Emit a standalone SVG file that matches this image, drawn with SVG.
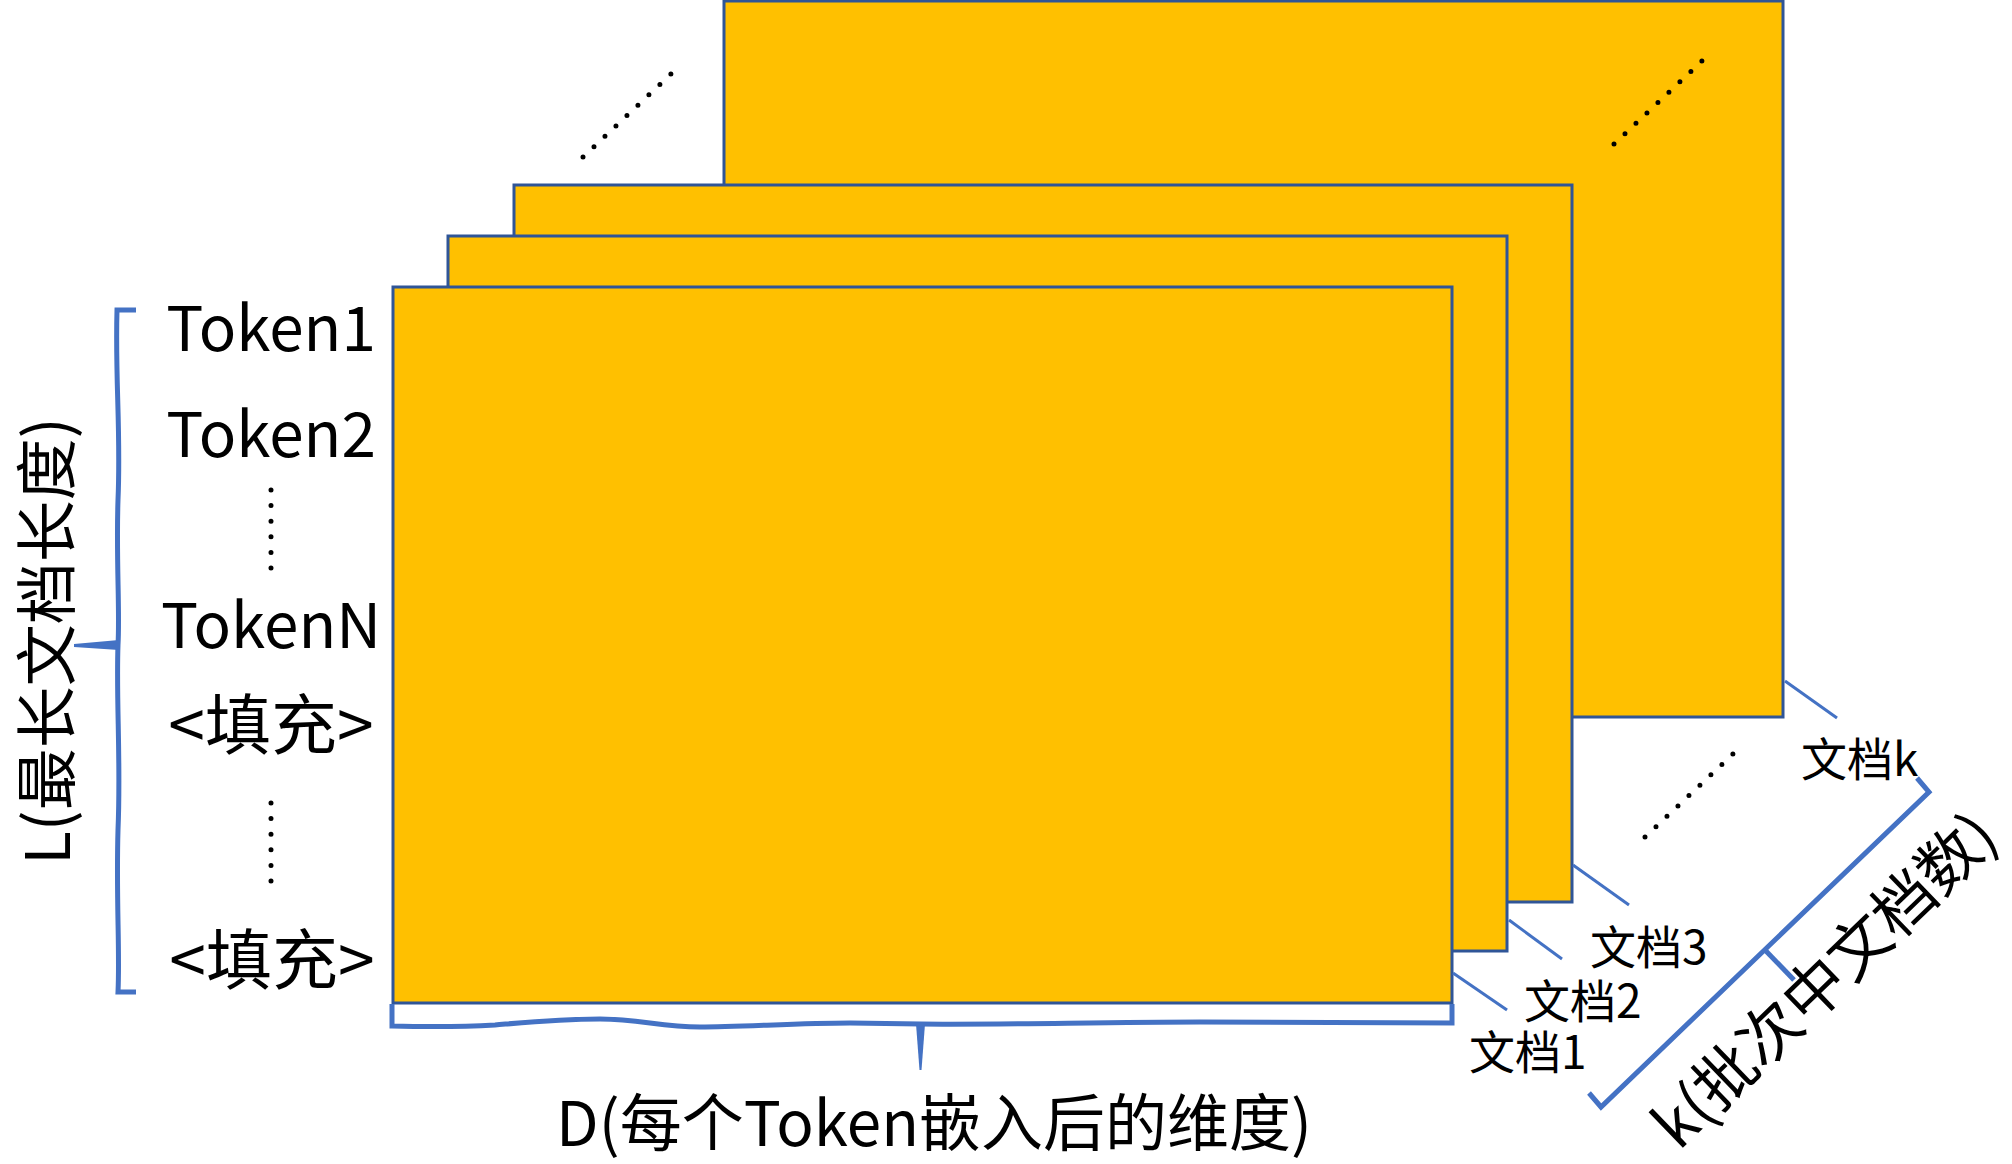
<svg xmlns="http://www.w3.org/2000/svg" width="2012" height="1164" viewBox="0 0 2012 1164">
<style>
.sheet{fill:#FFC000;stroke:#2F5597;stroke-width:3}
.t{font-family:"Noto Sans CJK SC","Noto Sans",sans-serif;fill:#000}
.tok{font-size:62px;text-anchor:middle}
.pad{font-size:66px;text-anchor:middle}
.doc{font-size:46px}
.big{font-size:62px;text-anchor:middle}
.brace{fill:none;stroke:#4472C4;stroke-width:5;stroke-linejoin:miter}
.lead{stroke:#4472C4;stroke-width:3;fill:none}
.dots{stroke:#000;stroke-width:5;stroke-linecap:round;stroke-dasharray:0 15.1;fill:none}
.vdots{stroke:#000;stroke-width:5;stroke-linecap:round;stroke-dasharray:0 15.6;fill:none}
</style>
<rect width="2012" height="1164" fill="#fff"/>
<g id="doc-k"><rect class="sheet" x="724" y="1" width="1059" height="716"/></g>
<g id="doc-3"><rect class="sheet" x="514" y="185" width="1058" height="717"/></g>
<g id="doc-2"><rect class="sheet" x="448" y="236" width="1059" height="715"/></g>
<g id="doc-1"><rect class="sheet" x="393" y="287" width="1059" height="716"/></g>
<g id="ellipses">
<line class="dots" x1="583" y1="157" x2="671.1" y2="73.9"/>
<line class="dots" x1="1614" y1="144" x2="1702.1" y2="60.9"/>
<line class="dots" x1="1645" y1="837" x2="1733.1" y2="753.9"/>
<line class="vdots" x1="271" y1="490" x2="271" y2="568.1"/>
<line class="vdots" x1="271" y1="803" x2="271" y2="881.1"/>
</g>
<g id="connectors">
<line class="lead" x1="1453" y1="973" x2="1507" y2="1010"/>
<line class="lead" x1="1509" y1="920" x2="1562" y2="959"/>
<line class="lead" x1="1573" y1="865" x2="1629" y2="905"/>
<line class="lead" x1="1785" y1="681" x2="1837" y2="718"/>
</g>
<g id="brace-L">
<path class="brace" d="M136,310 H117 C115,380 121,430 118,500 C116,560 120,610 118,645 C116,700 121,760 118,830 C116,900 120,950 118,992 H136"/>
<polygon fill="#4472C4" points="119,640 74,644 74,647 119,650"/>
</g>
<g id="brace-D">
<path class="brace" d="M392,1004 V1026 C430,1027 460,1027 495,1025 C530,1022 560,1019 600,1019 C640,1019 660,1027 700,1027 C740,1027 800,1023 850,1023 L921,1024 C1000,1025 1100,1022 1200,1022 C1300,1022 1400,1023 1452,1023 V1004"/>
<polygon fill="#4472C4" points="916,1024 919.5,1070 921.5,1070 925,1024"/>
</g>
<g id="brace-k">
<path class="brace" d="M1589,1093 L1601,1107 L1929,792 L1917,778"/>
<line class="brace" x1="1765" y1="950" x2="1794" y2="980"/>
</g>
<g id="row-labels">
<text class="t tok" x="271" y="351">Token1</text>
<text class="t tok" x="271" y="457">Token2</text>
<text class="t tok" x="271" y="648">TokenN</text>
<text class="t pad" x="271" y="749">&lt;填充&gt;</text>
<text class="t pad" x="272" y="984">&lt;填充&gt;</text>
</g>
<g id="doc-labels">
<text class="t doc" x="1469" y="1069">文档1</text>
<text class="t doc" x="1524" y="1018">文档2</text>
<text class="t doc" x="1590" y="964">文档3</text>
<text class="t doc" x="1801" y="776">文档k</text>
</g>
<g id="axis-labels">
<text class="t big" x="934" y="1146">D(每个Token嵌入后的维度)</text>
<text class="t big" transform="translate(70,641) rotate(-90)" x="0" y="0">L(最长文档长度)</text>
<text class="t big" transform="translate(1840,996) rotate(-44)" x="0" y="0">k(批次中文档数)</text>
</g>
</svg>
